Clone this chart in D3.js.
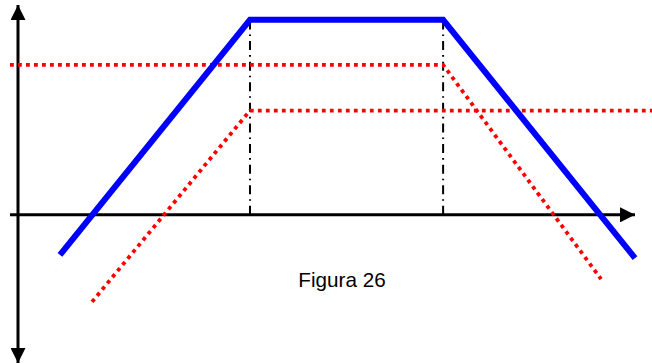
<!DOCTYPE html>
<html>
<head>
<meta charset="utf-8">
<script src="https://cdn.jsdelivr.net/npm/d3@7"></script>
<style>
  html, body { margin: 0; padding: 0; background: #fff; }
  svg { display: block; }
</style>
</head>
<body>
<svg id="chart" width="652" height="364"></svg>
<script>
// ---- data (chart units) ----
const blueX = [6.8, 37.6, 68.9, 100];
const blueY = [-6.5, 31.6, 31.6, -7.0];
const red1X = [-1.3, 68.9, 94.5];
const red1Y = [24.3, 24.3, -10.4];
const red2X = [12.0, 37.6, 102.8];
const red2Y = [-14.1, 16.9, 16.9];
const guideX = [37.6, 68.9];
const guideTop = [31.6, 31.6];
const xAxisRange = [-1.3, 100];
const yAxisRange = [-24, 34];
const caption = ["Figura 26"];

const svg = d3.select("#chart");
const x = d3.scaleLinear().domain([0, 100]).range([18, 635]);
const y = d3.scaleLinear().domain([-24, 34]).range([363, 5]);

// arrow marker
const defs = svg.append("defs");
defs.append("marker")
  .attr("id", "arr")
  .attr("viewBox", "0 0 15 15")
  .attr("refX", 15).attr("refY", 7.5)
  .attr("markerWidth", 15).attr("markerHeight", 15)
  .attr("markerUnits", "userSpaceOnUse")
  .attr("orient", "auto-start-reverse")
  .append("path").attr("d", "M0,0 L15,7.5 L0,15 Z").attr("fill", "#000");

const line = d3.line().x(d => x(d[0])).y(d => y(d[1]));

// vertical dash-dot guides
guideX.forEach((gx, i) => {
  svg.append("path")
    .attr("d", line([[gx, 0], [gx, guideTop[i]]]))
    .attr("stroke", "#000").attr("stroke-width", 2)
    .attr("stroke-dasharray", "9,5,1.6,5")
    .attr("fill", "none");
});

// axes
svg.append("path")
  .attr("d", line([[xAxisRange[0], 0], [xAxisRange[1], 0]]))
  .attr("stroke", "#000").attr("stroke-width", 3).attr("fill", "none")
  .attr("marker-end", "url(#arr)");
svg.append("path")
  .attr("d", line([[0, yAxisRange[0]], [0, yAxisRange[1]]]))
  .attr("stroke", "#000").attr("stroke-width", 3).attr("fill", "none")
  .attr("marker-start", "url(#arr)")
  .attr("marker-end", "url(#arr)");

// red dotted lines
const zip = (a, b) => a.map((v, i) => [v, b[i]]);
[zip(red1X, red1Y), zip(red2X, red2Y)].forEach(pts => {
  svg.append("path")
    .attr("d", line(pts))
    .attr("stroke", "#ff0000").attr("stroke-width", 3.8)
    .attr("stroke-dasharray", "3.8,4.2")
    .attr("fill", "none");
});

// blue line
svg.append("path")
  .attr("d", line(zip(blueX, blueY)))
  .attr("stroke", "#0000ff").attr("stroke-width", 6)
  .attr("stroke-linejoin", "miter")
  .attr("fill", "none");

// caption
svg.append("text")
  .attr("x", 342).attr("y", 287)
  .attr("text-anchor", "middle")
  .attr("font-family", "Arial, 'Liberation Sans', sans-serif")
  .attr("font-size", 20.7)
  .attr("fill", "#000")
  .text(caption[0]);
</script>
</body>
</html>
